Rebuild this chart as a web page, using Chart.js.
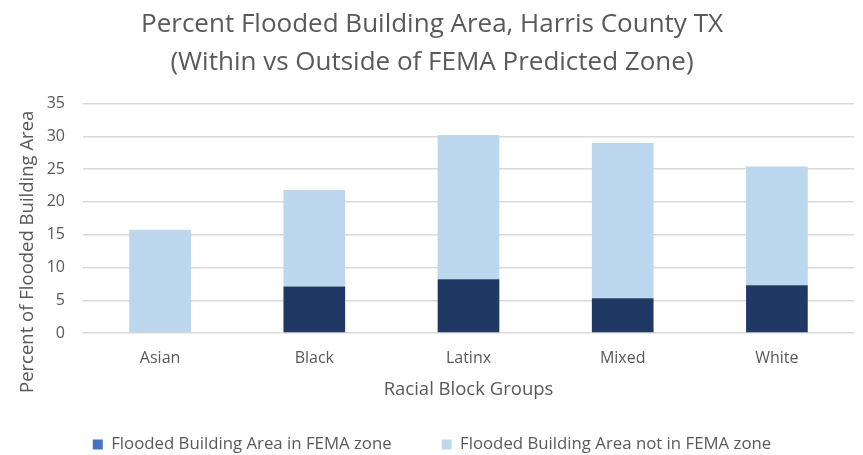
<!DOCTYPE html>
<html>
<head>
<meta charset="utf-8">
<script src="https://cdn.jsdelivr.net/npm/chart.js@4"></script>
<style>
  html, body { margin: 0; padding: 0; background: #fff; }
  #wrap { width: 863px; height: 455px; }
</style>
</head>
<body>
<div id="wrap"><canvas id="floodChart" width="863" height="455"></canvas></div>
<script>
// values
const groups = ['Asian', 'Black', 'Latinx', 'Mixed', 'White'];
const inFema = [0, 7.1, 8.2, 5.3, 7.3];
const notInFema = [15.75, 14.7, 22.0, 23.7, 18.1];
const yTicks = [0, 5, 10, 15, 20, 25, 30, 35];

const textGrey = '#595959';
const fontFamily = "'Open Sans', 'Liberation Sans', sans-serif";

// Excel centres the y title on the plot plus the x labels, not just the plot,
// so stretch the scale's bottom while its title is drawn
const yTitleShift = {
    id: 'yTitleShift',
    afterLayout(chart) {
        const yScale = chart.scales.y;
        if (yScale._shifted) return;
        const drawTitle = yScale.drawTitle;
        yScale.drawTitle = function () {
            const bottom = this.bottom;
            this.bottom = bottom + 67;
            drawTitle.call(this);
            this.bottom = bottom;
        };
        yScale._shifted = true;
    }
};

const floodChart = new Chart('floodChart', {
    type: 'bar',
    data: {
        labels: groups,
        datasets: [{
            label: 'Flooded Building Area in FEMA zone',
            data: inFema,
            backgroundColor: '#203864',
            legendColor: '#4472c4'
        }, {
            label: 'Flooded Building Area not in FEMA zone',
            data: notInFema,
            backgroundColor: '#bdd7ee',
            legendColor: '#bdd7ee'
        }]
    },
    plugins: [yTitleShift],
    options: {
        responsive: false,
        animation: false,
        categoryPercentage: 1,
        barPercentage: 0.4,
        layout: { padding: { left: 10, right: 9, top: 6, bottom: 2 } },
        scales: {
            x: {
                stacked: true,
                grid: { display: false },
                border: { display: false },
                ticks: { color: textGrey, padding: 8, font: { family: fontFamily, size: 16 } },
                title: {
                    display: true,
                    text: 'Racial Block Groups',
                    color: textGrey,
                    padding: { top: 2, bottom: -14.3 },
                    font: { family: fontFamily, size: 18.5 }
                }
            },
            y: {
                stacked: true,
                min: 0,
                max: 35,
                afterBuildTicks: axis => { axis.ticks = yTicks.map(v => ({ value: v })); },
                grid: { color: '#d9d9d9', lineWidth: 1.5, drawTicks: false },
                border: { display: false },
                ticks: { color: textGrey, padding: 18, font: { family: fontFamily, size: 16 } },
                title: {
                    display: true,
                    text: 'Percent of Flooded Building Area',
                    color: textGrey,
                    padding: { top: 6.9, bottom: -10.4 },
                    font: { family: fontFamily, size: 18.5 }
                }
            }
        },
        plugins: {
            title: {
                display: true,
                text: ['Percent Flooded Building Area, Harris County TX',
                       '(Within vs Outside of FEMA Predicted Zone)'],
                color: textGrey,
                font: { family: fontFamily, size: 26, weight: 'normal', lineHeight: 1.46 },
                padding: { top: 0, bottom: 21.6 }
            },
            legend: {
                position: 'bottom',
                maxHeight: 66.8,
                labels: {
                    color: textGrey,
                    font: { family: fontFamily, size: 16.8 },
                    boxWidth: 10,
                    boxHeight: 10,
                    padding: 50,
                    generateLabels: chart => chart.data.datasets.map((ds, i) => ({
                        text: ds.label,
                        fillStyle: ds.legendColor,
                        strokeStyle: ds.legendColor,
                        lineWidth: 0,
                        fontColor: textGrey,
                        datasetIndex: i,
                        hidden: !chart.isDatasetVisible(i)
                    }))
                }
            },
            tooltip: { enabled: false }
        }
    }
});
</script>
</body>
</html>
